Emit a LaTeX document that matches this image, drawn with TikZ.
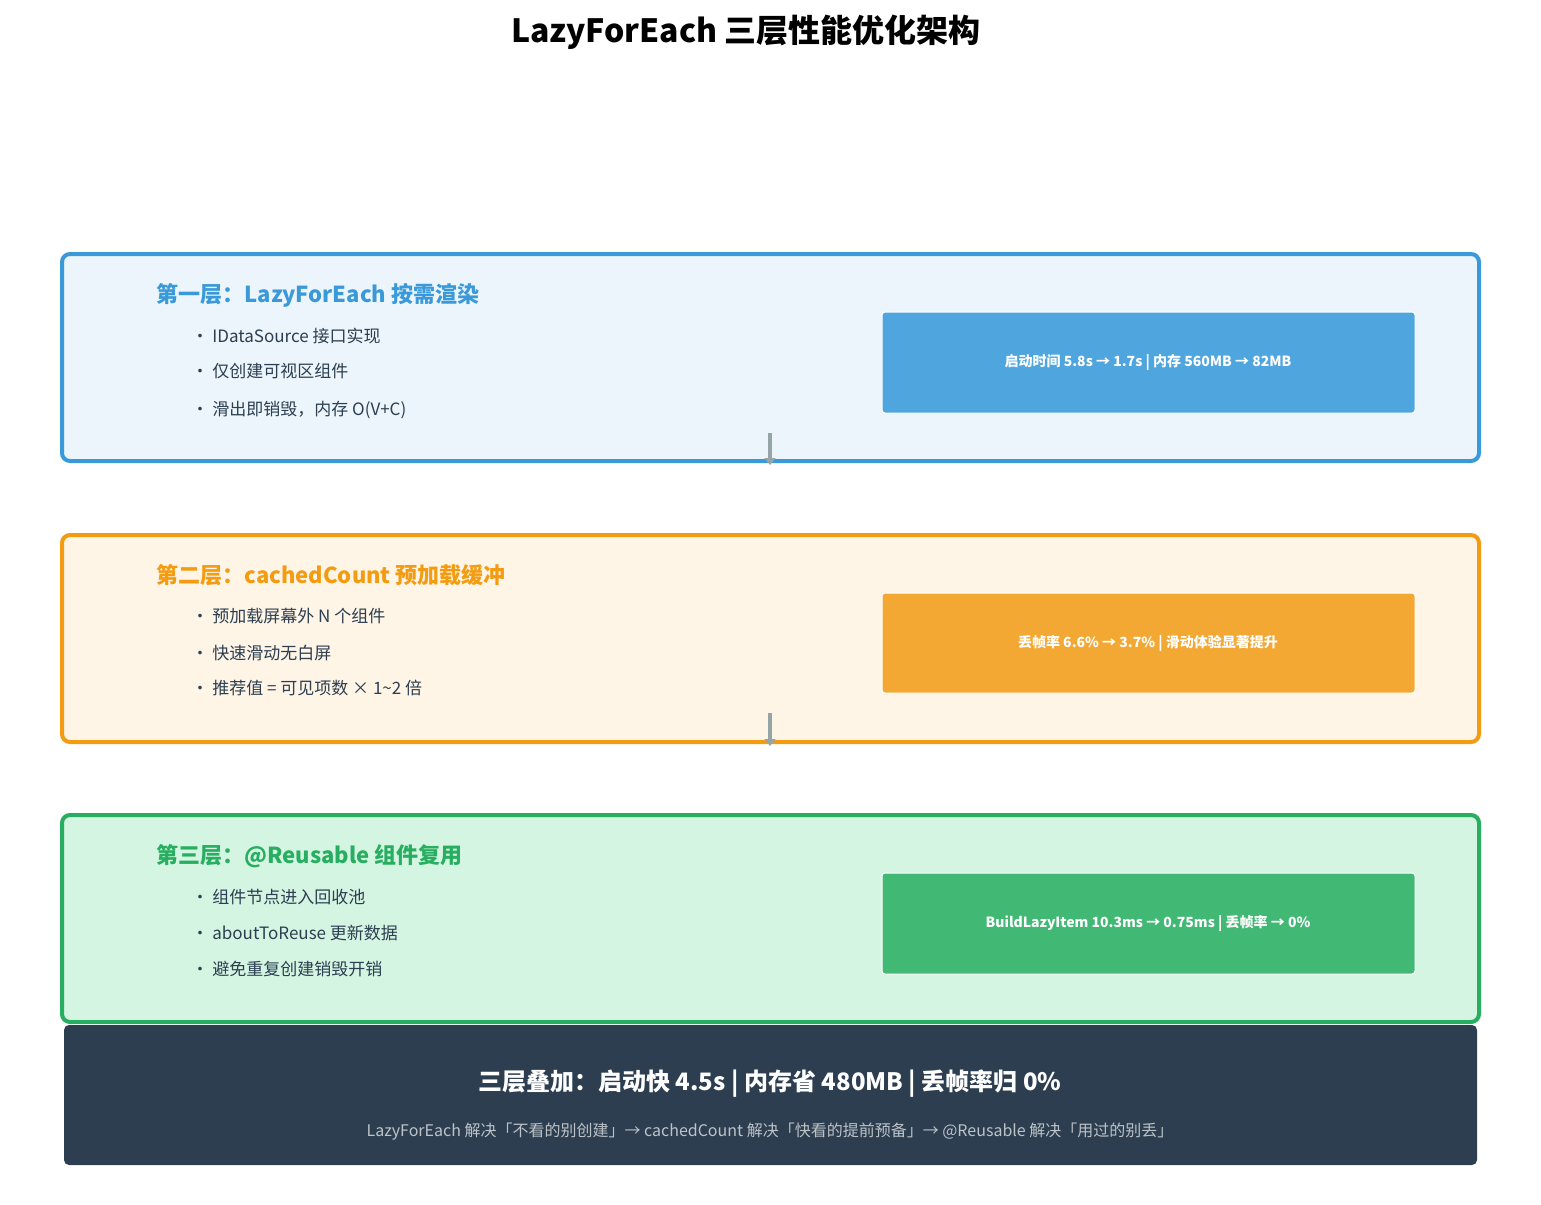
\documentclass[tikz,border=0pt]{standalone}
\usepackage{fontspec}
\setmainfont{Noto Sans CJK SC}
\usetikzlibrary{arrows.meta}
\definecolor{dark}{HTML}{2C3E50}
\definecolor{bA}{HTML}{3A9AD9}\definecolor{fA}{HTML}{EBF5FB}\definecolor{mA}{HTML}{4FA5DE}
\definecolor{bB}{HTML}{F39C12}\definecolor{fB}{HTML}{FEF5E7}\definecolor{mB}{HTML}{F3A833}
\definecolor{bC}{HTML}{27AE60}\definecolor{fC}{HTML}{D5F5E3}\definecolor{mC}{HTML}{41B874}
\definecolor{gr}{HTML}{95A5A6}\definecolor{lt}{HTML}{BDC3C7}
\newcommand{\fs}[1]{\fontsize{#1}{#1}\selectfont}
\begin{document}
\begin{tikzpicture}[x=1pt,y=-1pt,
 layer/.style={draw=#1,line width=4pt,rounded corners=8pt},
 metric/.style={draw=white,line width=1pt,rounded corners=3pt,text=white,font=\fs{14}\bfseries},
 head/.style={anchor=west,font=\fs{22}\bfseries},
 item/.style={anchor=west,text=dark,font=\fs{17}},
 flow/.style={draw=gr,line width=4pt,-{Triangle[length=7pt,width=11pt]}}]
\useasboundingbox (0,0) rectangle (1541,1204);
\node[font=\fs{32}\bfseries] (title) at (746,32) {LazyForEach 三层性能优化架构};
% layer 1
\draw[layer=bA,fill=fA] (62,254) rectangle (1479,461);
\node[head,text=bA] (h1) at (153,295) {第一层：LazyForEach 按需渲染};
\node[item] (a1) at (188,336) {• IDataSource 接口实现};
\node[item] (a2) at (188,371) {• 仅创建可视区组件};
\node[item] (a3) at (188,410) {• 滑出即销毁，内存 O(V+C)};
\path[metric,fill=mA] (882,312) rectangle (1415,413);
\node[text=white,font=\fs{14}\bfseries] (m1) at (1148,362) {启动时间 5.8s → 1.7s | 内存 560MB → 82MB};
\coordinate (s1) at (770,433); \coordinate (e1) at (770,465);
\draw[flow] (s1) -- (e1);
% layer 2
\draw[layer=bB,fill=fB] (62,535) rectangle (1479,742);
\node[head,text=bB] (h2) at (153,575) {第二层：cachedCount 预加载缓冲};
\node[item] (b1) at (188,616) {• 预加载屏幕外 N 个组件};
\node[item] (b2) at (188,653) {• 快速滑动无白屏};
\node[item] (b3) at (188,688) {• 推荐值 = 可见项数 × 1\textasciitilde 2 倍};
\path[metric,fill=mB] (882,593) rectangle (1415,693);
\node[text=white,font=\fs{14}\bfseries] (m2) at (1148,643) {丢帧率 6.6\% → 3.7\% | 滑动体验显著提升};
\coordinate (s2) at (770,713); \coordinate (e2) at (770,746);
\draw[flow] (s2) -- (e2);
% layer 3
\draw[layer=bC,fill=fC] (62,815) rectangle (1479,1022);
\node[head,text=bC] (h3) at (153,856) {第三层：@Reusable 组件复用};
\node[item] (c1) at (188,897) {• 组件节点进入回收池};
\node[item] (c2) at (188,933) {• aboutToReuse 更新数据};
\node[item] (c3) at (188,969) {• 避免重复创建销毁开销};
\path[metric,fill=mC] (882,873) rectangle (1415,974);
\node[text=white,font=\fs{14}\bfseries] (m3) at (1148,923) {BuildLazyItem 10.3ms → 0.75ms | 丢帧率 → 0\%};
% summary
\fill[dark,rounded corners=5pt] (64,1025) rectangle (1477,1165);
\node[text=white,font=\fs{24}\bfseries] (sum) at (770,1084) {三层叠加：启动快 4.5s | 内存省 480MB | 丢帧率归 0\%};
\node[text=lt,font=\fs{16}] (sub) at (770,1132) {LazyForEach 解决「不看的别创建」→ cachedCount 解决「快看的提前预备」→ @Reusable 解决「用过的别丢」};
\end{tikzpicture}
\end{document}
